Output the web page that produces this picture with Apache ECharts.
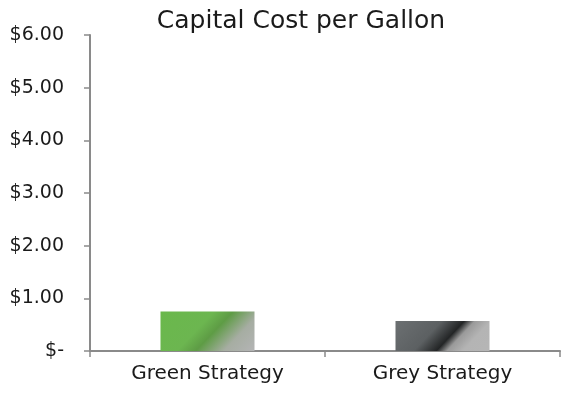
<!DOCTYPE html>
<html>
<head>
<meta charset="utf-8">
<script src="https://cdn.jsdelivr.net/npm/echarts@6/dist/echarts.min.js"></script>
<style>
  html, body { margin: 0; padding: 0; background: #fff; }
  #chart { width: 566px; height: 394px; }
</style>
</head>
<body>
<div id="chart"></div>
<script>
// Capital cost per gallon for the two strategies
const categories = ['Green Strategy', 'Grey Strategy'];
const costValues = [0.75, 0.57];
const yTicks = [0, 1, 2, 3, 4, 5, 6];

const FONT = 'DejaVu Sans';

// Diagonal sheen fills for each bar (streak rises to the right)
const fills = [
  new echarts.graphic.LinearGradient(0, 0, 0.75, 1.7, [
    { offset: 0, color: '#6ab84c' },
    { offset: 0.4, color: '#6cb650' },
    { offset: 0.54, color: '#5e9c45' },
    { offset: 0.75, color: '#a6ada2' },
    { offset: 1, color: '#b5b5b7' }
  ]),
  new echarts.graphic.LinearGradient(0, 0, 0.75, 2.2, [
    { offset: 0, color: '#6c7072' },
    { offset: 0.35, color: '#5c6062' },
    { offset: 0.52, color: '#232526' },
    { offset: 0.6, color: '#9a9a9a' },
    { offset: 0.72, color: '#b4b4b4' },
    { offset: 1, color: '#b6b6b6' }
  ])
];

const chart = echarts.init(document.getElementById('chart'), null, { renderer: 'canvas' });
chart.setOption({
  animation: false,
  backgroundColor: '#ffffff',
  title: {
    text: 'Capital Cost per Gallon',
    left: 296,
    textAlign: 'center',
    top: 4,
    textStyle: { fontFamily: FONT, fontSize: 25, fontWeight: 'normal', color: '#1a1a1a' }
  },
  grid: { left: 90, right: 6, top: 35, bottom: 43, containLabel: false },
  xAxis: {
    type: 'category',
    data: categories,
    axisLine: { lineStyle: { color: '#8a8a8a', width: 2 } },
    axisTick: { show: true, length: 6, lineStyle: { color: '#8a8a8a', width: 1.5 } },
    axisLabel: { fontFamily: FONT, fontSize: 20, color: '#1a1a1a', margin: 13 }
  },
  yAxis: {
    type: 'value',
    min: yTicks[0],
    max: yTicks[yTicks.length - 1],
    interval: 1,
    splitLine: { show: false },
    axisLine: { show: true, lineStyle: { color: '#8a8a8a', width: 2 } },
    axisTick: { show: true, inside: false, length: 6, lineStyle: { color: '#8a8a8a', width: 1.5 } },
    axisLabel: {
      fontFamily: FONT, fontSize: 19, color: '#1a1a1a', margin: 26,
      formatter: v => v === 0 ? '$-' : '$' + v.toFixed(2)
    }
  },
  series: [{
    type: 'bar',
    barWidth: 94,
    data: costValues.map((v, i) => ({ value: v, itemStyle: { color: fills[i] } }))
  }]
});
</script>
</body>
</html>
